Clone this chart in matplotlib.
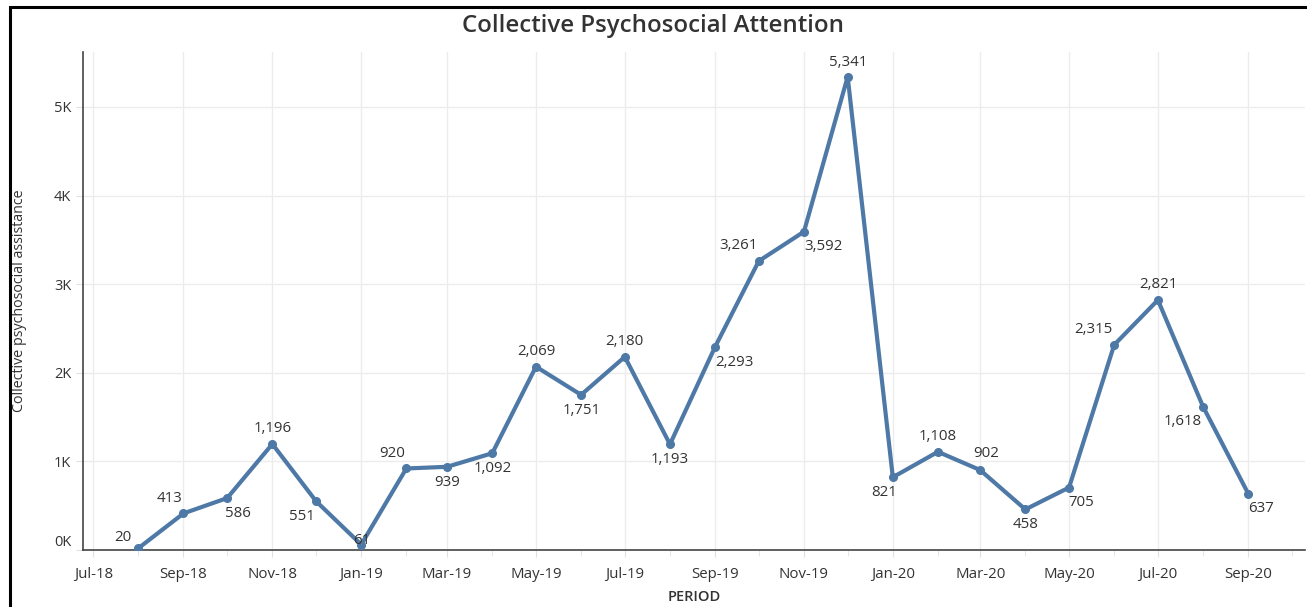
import matplotlib
matplotlib.use("Agg")
import matplotlib.pyplot as plt
import matplotlib.dates as mdates
from matplotlib.patches import Rectangle
from matplotlib.ticker import FuncFormatter
import pandas as pd

# monthly counts, Aug-18 .. Sep-20
months = pd.date_range("2018-08-01", "2020-09-01", freq="MS")
values = [20, 413, 586, 1196, 551, 61, 920, 939, 1092, 2069, 1751, 2180, 1193,
          2293, 3261, 3592, 5341, 821, 1108, 902, 458, 705, 2315, 2821, 1618, 637]
y_ticks = [0, 1000, 2000, 3000, 4000, 5000]

# label offsets in points (dx, dy) to mimic the reference placement
offsets = [(-11, 8), (-10, 11), (8, -11), (0, 11), (-10, -11), (0, 3), (-10, 11),
           (0, -11), (0, -11), (0, 11), (0, -11), (0, 11), (0, -11), (14, -11),
           (-15, 11), (14, -11), (0, 10), (-6, -11), (0, 11), (4, 12), (0, -11),
           (9, -11), (-15, 11), (0, 11), (-15, -11), (9, -11)]

line_color = "#4e79a7"
text_color = "#333333"

plt.rcParams["font.family"] = ["Open Sans", "DejaVu Sans"]

fig = plt.figure(figsize=(13.07, 6.07), dpi=100)
ax = fig.add_axes([83 / 1307, 1 - 550 / 607, (1305 - 83) / 1307, (550 - 52) / 607])

ax.plot(months, values, color=line_color, linewidth=3, marker="o", markersize=5.5,
        solid_joinstyle="round", zorder=3)

for d, v, (dx, dy) in zip(months, values, offsets):
    ax.annotate(f"{v:,}", (d, v), xytext=(dx, dy), textcoords="offset points",
                ha="center", va="center", fontsize=10.8, color=text_color, zorder=4)

ax.set_xlim(pd.Timestamp("2018-06-24"), pd.Timestamp("2020-10-10"))
ax.set_ylim(0, 5620)

ax.set_yticks(y_ticks)
ax.yaxis.set_major_formatter(FuncFormatter(lambda y, p: f"{int(y / 1000)}K"))
ax.xaxis.set_major_locator(mdates.MonthLocator(bymonth=[1, 3, 5, 7, 9, 11]))
ax.xaxis.set_minor_locator(mdates.MonthLocator())
ax.xaxis.set_major_formatter(mdates.DateFormatter("%b-%y"))

ax.grid(True, which="major", color="#ececec", linewidth=1)
ax.set_axisbelow(True)
for s in ["top", "right"]:
    ax.spines[s].set_visible(False)
ax.spines["left"].set_color("#444444")
ax.spines["bottom"].set_color("#444444")
ax.spines["left"].set_linewidth(1.2)
ax.spines["bottom"].set_linewidth(1.2)

ax.tick_params(axis="x", which="major", length=5, color="#e0e0e0", labelsize=10.8,
               labelcolor=text_color, pad=7)
ax.tick_params(axis="x", which="minor", length=4, color="#e0e0e0")
ax.tick_params(axis="y", length=5, color="#e0e0e0", labelsize=10.5, labelcolor=text_color)
# Tableau nudges the bottom label up so it stays inside the pane
ax.yaxis.get_major_ticks()[0].label1.set_verticalalignment("bottom")

ax.set_xlabel("PERIOD", fontsize=10.5, color=text_color, fontweight="semibold")
ax.xaxis.set_label_coords(0.5, -(597 - 550) / 498, transform=ax.transAxes)
ax.xaxis.label.set_verticalalignment("center")
ax.set_ylabel("Collective psychosocial assistance", fontsize=10.3, color=text_color)
ax.yaxis.set_label_coords(-(83 - 20) / 1222, 0.5)
ax.yaxis.label.set_verticalalignment("center")

fig.text(0.5, 1 - 26 / 607, "Collective Psychosocial Attention", ha="center", va="center",
         fontsize=17.3, color="#333333", fontweight="semibold")

# outer frame (only top and left edges visible in the crop)
fig.patches.append(Rectangle((10 / 1307, -0.1), 1.2, 1.1 - 7 / 607,
                             transform=fig.transFigure, fill=False,
                             edgecolor="black", linewidth=2.2, zorder=10))

fig.savefig("out.png", dpi=100)
